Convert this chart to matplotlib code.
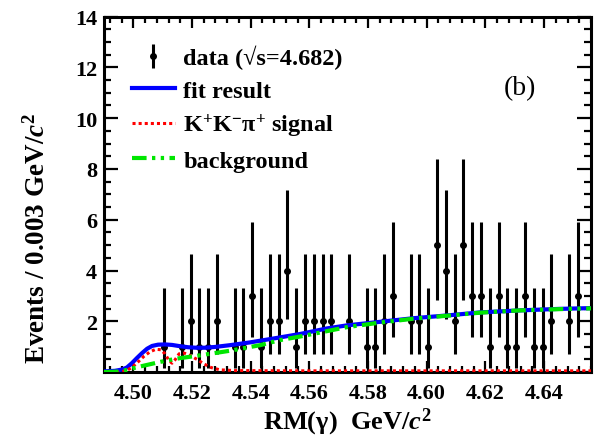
import matplotlib
matplotlib.use("Agg")
import matplotlib.pyplot as plt
from matplotlib.ticker import MultipleLocator, FuncFormatter
from matplotlib.lines import Line2D

# ---------------- data: events per 3 MeV bin ----------------
mass = [4.5105, 4.5165, 4.5195, 4.5225, 4.5255, 4.5285, 4.5345, 4.5375,
        4.5405, 4.5435, 4.5465, 4.5495, 4.5525, 4.5555, 4.5585, 4.5615,
        4.5645, 4.5675, 4.5735, 4.5795, 4.5825, 4.5855, 4.5885, 4.5945,
        4.5975, 4.6005, 4.6035, 4.6065, 4.6095, 4.6125, 4.6155, 4.6185,
        4.6215, 4.6245, 4.6275, 4.6305, 4.6335, 4.6365, 4.6395, 4.6425,
        4.6485, 4.6515]
counts = [1, 1, 2, 1, 1, 2, 1, 1,
          3, 1, 2, 2, 4, 1, 2, 2,
          2, 2, 2, 1, 1, 2, 3, 2,
          2, 1, 5, 4, 2, 5, 3, 3,
          1, 3, 1, 1, 3, 1, 1, 2,
          2, 3]

# 68.3% Poisson intervals (lower, upper) for small counts
poisson_err = {1: (0.827, 2.299), 2: (1.292, 2.638), 3: (1.633, 2.918),
               4: (1.914, 3.162), 5: (2.159, 3.382)}

# ---------------- fit curves ----------------
fit_x = [4.4900, 4.4937, 4.4961, 4.4978, 4.4995, 4.5012, 4.5030, 4.5047,
         4.5064, 4.5084, 4.5108, 4.5132, 4.5159, 4.5186, 4.5214, 4.5244,
         4.5278, 4.5329, 4.5398, 4.5466, 4.5568, 4.5660, 4.5728, 4.5841,
         4.5953, 4.6079, 4.6182, 4.6318, 4.6454, 4.6560]
fit_y = [0.03, 0.05, 0.10, 0.18, 0.35, 0.55, 0.75, 0.92,
         1.03, 1.08, 1.09, 1.07, 1.02, 0.98, 0.96, 0.96,
         0.99, 1.06, 1.17, 1.30, 1.50, 1.72, 1.84, 1.98,
         2.12, 2.24, 2.35, 2.43, 2.49, 2.52]

bkg_x = [4.4900, 4.4948, 4.4972, 4.4995, 4.5023, 4.5057, 4.5091, 4.5125,
         4.5159, 4.5210, 4.5261, 4.5329, 4.5432, 4.5500, 4.5568, 4.5728,
         4.5841, 4.5953, 4.6079, 4.6182, 4.6318, 4.6454, 4.6560]
bkg_y = [0.00, 0.02, 0.07, 0.14, 0.22, 0.31, 0.40, 0.48,
         0.55, 0.63, 0.72, 0.84, 1.06, 1.26, 1.40, 1.77,
         1.95, 2.10, 2.23, 2.34, 2.43, 2.48, 2.51]

sig_x = [4.4900, 4.4948, 4.4975, 4.4995, 4.5016, 4.5036, 4.5057, 4.5077,
         4.5094, 4.5108, 4.5122, 4.5132, 4.5142, 4.5156, 4.5173, 4.5193,
         4.5217, 4.5241, 4.5265, 4.5295, 4.5346, 4.5568, 4.6079, 4.6560]
sig_y = [0.00, 0.00, 0.05, 0.18, 0.40, 0.62, 0.80, 0.90,
         0.88, 0.72, 0.45, 0.35, 0.48, 0.72, 0.75, 0.66,
         0.50, 0.32, 0.18, 0.09, 0.06, 0.05, 0.05, 0.05]

# ---------------- style ----------------
plt.rcParams["font.family"] = ["Liberation Serif", "DejaVu Serif"]
plt.rcParams["font.weight"] = "bold"
plt.rcParams["axes.labelweight"] = "bold"
plt.rcParams["mathtext.fontset"] = "custom"
plt.rcParams["mathtext.rm"] = "Liberation Serif:bold"
plt.rcParams["mathtext.bf"] = "Liberation Serif:bold"
plt.rcParams["mathtext.it"] = "Liberation Serif:italic:bold"

fig = plt.figure(figsize=(6.07, 4.39), dpi=100)
ax = fig.add_axes([0.1713, 0.1501, 0.8023, 0.81])

lo = [poisson_err[c][0] for c in counts]
hi = [poisson_err[c][1] for c in counts]
data = ax.errorbar(mass, counts, yerr=[lo, hi], fmt="o", color="black",
                   ms=4, elinewidth=2.2, capsize=0, zorder=2)

sig_ls = (0, (1, 1))
bkg_ls = (0, (3.5, 1.3, 0.8, 1.3, 0.8, 1.3))
ax.plot(fit_x, fit_y, color="#0000ff", lw=3, zorder=3)
ax.plot(sig_x, sig_y, color="#ff0000", lw=2.2, ls=sig_ls, zorder=4)
ax.plot(bkg_x, bkg_y, color="#00e600", lw=3, ls=bkg_ls, zorder=5)

ax.set_xlim(4.490, 4.656)
ax.set_ylim(0, 14)

ax.xaxis.set_major_locator(MultipleLocator(0.02))
ax.xaxis.set_minor_locator(MultipleLocator(0.004))
ax.yaxis.set_major_locator(MultipleLocator(2))
ax.yaxis.set_minor_locator(MultipleLocator(0.5))
ax.xaxis.set_major_formatter(FuncFormatter(lambda v, p: f"{v:.2f}"))
ax.yaxis.set_major_formatter(FuncFormatter(lambda v, p: "" if v == 0 else f"{v:.0f}"))

ax.tick_params(which="both", direction="in", top=True, right=True,
               width=1.6, labelsize=16)
ax.tick_params(axis="x", which="major", length=8, pad=8)
ax.tick_params(axis="x", which="minor", length=4)
ax.tick_params(axis="y", which="major", length=10, pad=5)
ax.tick_params(axis="y", which="minor", length=5)
for sp in ax.spines.values():
    sp.set_linewidth(2.2)

ax.set_xlabel(r"RM(γ)  GeV/$c^{2}$", fontsize=19)
ax.xaxis.set_label_coords(0.499, -0.095)
ax.set_ylabel(r"Events / 0.003 GeV/$c^{2}$", fontsize=19.5)
ax.yaxis.set_label_coords(-0.11, 0.38)

handles = [data, Line2D([], [], color="#0000ff", lw=3),
           Line2D([], [], color="#ff0000", lw=2.2, ls=sig_ls),
           Line2D([], [], color="#00e600", lw=3, ls=bkg_ls)]
labels = ["data (√s=4.682)", "fit result",
          r"K$^{+}$K$^{-}$π$^{+}$ signal", "background"]
ax.legend(handles, labels, loc="upper left", bbox_to_anchor=(0.058, 0.92),
          frameon=False, fontsize=17.5, handlelength=1.75, handletextpad=0.35,
          labelspacing=0.42, borderaxespad=0, borderpad=0)

ax.text(0.855, 0.80, "(b)", transform=ax.transAxes, fontsize=20,
        fontweight="normal", ha="center", va="center")

fig.savefig("out.png", dpi=100)
